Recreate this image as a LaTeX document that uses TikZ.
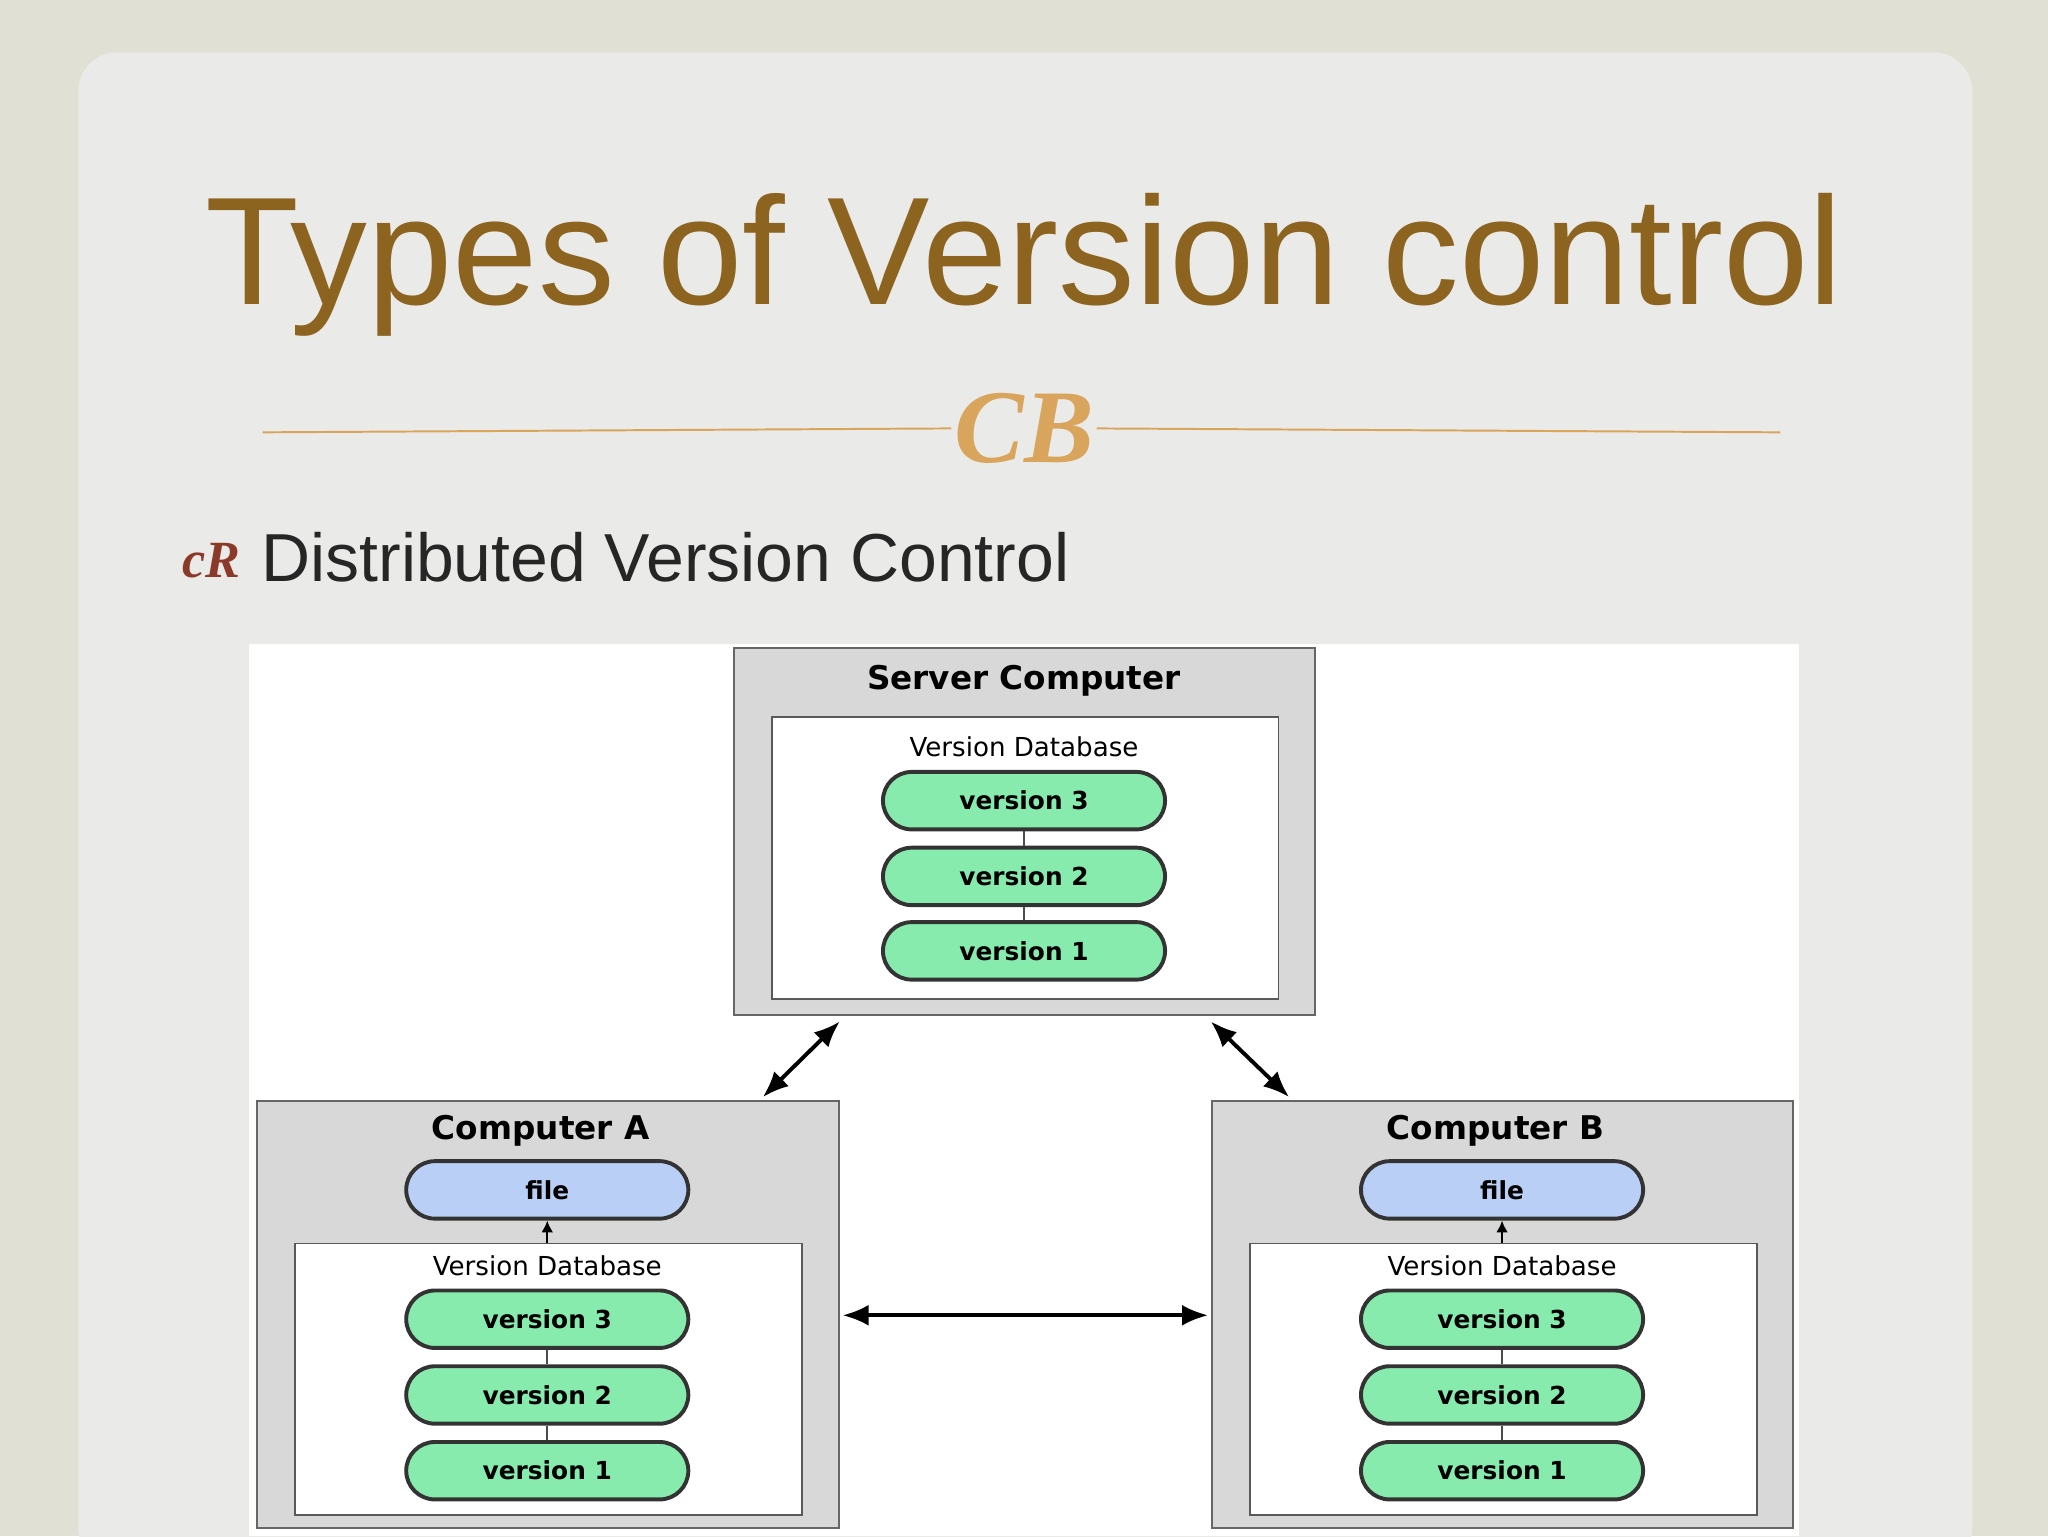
\documentclass[tikz,border=0pt]{standalone}
\usepackage{fontspec}
\setmainfont{Liberation Sans}
\newfontfamily\djfont{DejaVu Sans}
\newfontfamily\ornfont{Liberation Serif}
\usetikzlibrary{arrows.meta}
\definecolor{bgout}{HTML}{E0E1D4}
\definecolor{bgin}{HTML}{EAEAE8}
\definecolor{titlec}{HTML}{8C6420}
\definecolor{gold}{HTML}{D9A55C}
\definecolor{boxg}{HTML}{D8D8D8}
\definecolor{greenv}{HTML}{88EBAE}
\definecolor{bluef}{HTML}{BACFF5}
\definecolor{bullet}{HTML}{8B3A2A}
\tikzset{
 x=1pt,y=-1pt,
 comp/.style={draw=gray!80!black,fill=boxg,line width=1.5pt},
 db/.style={draw=gray!70!black,fill=white,line width=1.2pt},
 ver/.style={draw=black!80,fill=greenv,line width=3pt,rounded corners=22pt,minimum width=216pt,minimum height=44pt,font=\djfont\bfseries\fontsize{19}{20}\selectfont},
 filep/.style={ver,fill=bluef},
 ttl/.style={font=\djfont\bfseries\fontsize{25}{27}\selectfont},
 dbl/.style={font=\djfont\fontsize{20}{22}\selectfont},
 arr/.style={line width=3pt,{Latex[length=20pt,width=16pt]}-{Latex[length=20pt,width=16pt]}},
 link/.style={line width=1.5pt,draw=black!70}
}
\begin{document}
\begin{tikzpicture}
\useasboundingbox (0,0) rectangle (1568,1176);
\fill[bgout] (0,0) rectangle (1568,1176);
\fill[bgin,rounded corners=30pt] (60,40) rectangle (1510,1200);
\node[text=titlec,font=\fontsize{117.5}{124}\selectfont,anchor=base west,inner sep=0pt] (title) at (157,233) {Types of Version control};
\coordinate (l1) at (201,331); \coordinate (l2) at (1363,331);
\node[text=gold,font=\ornfont\itshape\bfseries\fontsize{80}{80}\selectfont,fill=bgin,inner sep=2pt] (orn) at (784,328) {CB};
\draw[gold,line width=1.5pt] (l1) -- (orn.west) (orn.east) -- (l2);
\node[text=bullet,font=\ornfont\itshape\bfseries\fontsize{40}{40}\selectfont,anchor=base west] (bul) at (136,442) {cR};
\node[text=black!85,font=\fontsize{52}{54}\selectfont,anchor=base west,inner sep=0pt] (sub) at (200,445) {Distributed Version Control};
\fill[white] (191,493) rectangle (1377,1176);
% server
\draw[comp] (562,496) rectangle (1007,777);
\draw[db] (591,549) rectangle (979,765);
\node[ttl] (st) at (784,521) {Server Computer};
\node[dbl] (sd) at (784,572) {Version Database};
\node[ver] (s3) at (784,613) {version 3};
\node[ver] (s2) at (784,671) {version 2};
\node[ver] (s1) at (784,728) {version 1};
\draw[link] (s3) -- (s2) (s2) -- (s1);
% A and B
\foreach \n/\cx/\lab in {A/419/Computer A,B/1150/Computer B}{
 \draw[comp] (\cx-222,843) rectangle (\cx+223,1170);
 \draw[db] (\cx-193,952) rectangle (\cx+195,1160);
 \node[ttl] (t\n) at (\cx-5,866) {\lab};
 \node[filep] (f\n) at (\cx,911) {file};
 \node[dbl] (d\n) at (\cx,969) {Version Database};
 \node[ver] (\n3) at (\cx,1010) {version 3};
 \node[ver] (\n2) at (\cx,1068) {version 2};
 \node[ver] (\n1) at (\cx,1126) {version 1};
 \draw[link] (\n3) -- (\n2) (\n2) -- (\n1);
 \coordinate (db\n) at (\cx,952);
 \draw[line width=1.5pt,-{Latex[length=9pt,width=9pt]}] (db\n) -- (f\n.south);
}
\coordinate (a1) at (643,782); \coordinate (a2) at (584,840);
\coordinate (b1) at (927,782); \coordinate (b2) at (987,840);
\coordinate (c1) at (645,1007); \coordinate (c2) at (925,1007);
\draw[arr] (a1) -- (a2);
\draw[arr] (b1) -- (b2);
\draw[arr] (c1) -- (c2);
\end{tikzpicture}
\end{document}
